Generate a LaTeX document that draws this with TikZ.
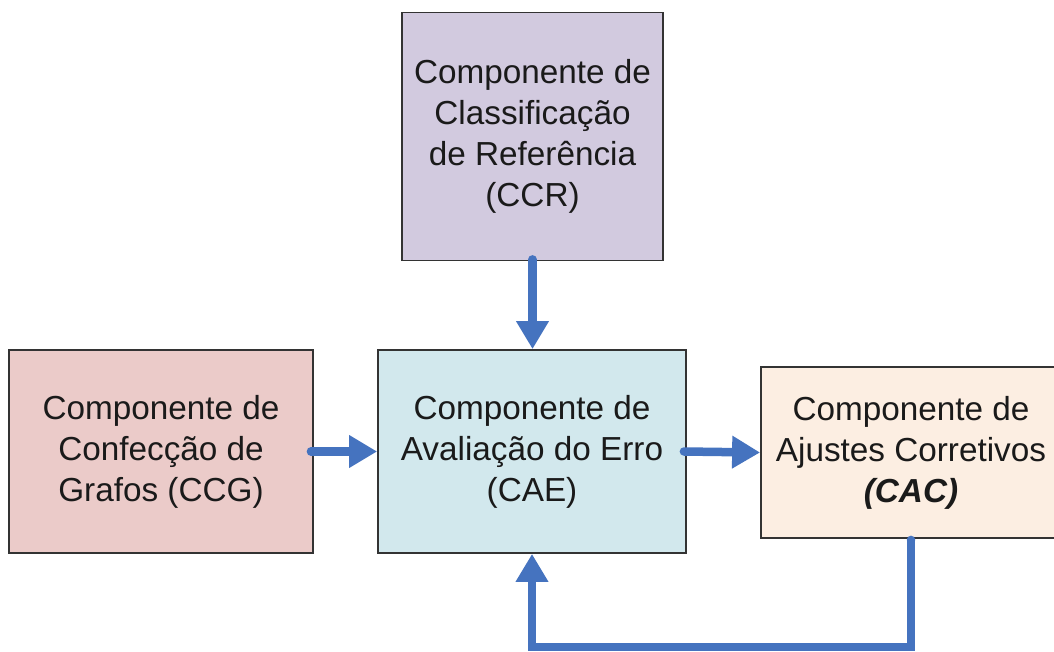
\documentclass[tikz,border=0pt]{standalone}
\usepackage{fontspec}
\setmainfont{Liberation Sans}
\usetikzlibrary{arrows.meta}
\definecolor{ccrfill}{HTML}{D2CADF}
\definecolor{ccgfill}{HTML}{EBCBC9}
\definecolor{caefill}{HTML}{D2E8ED}
\definecolor{cacfill}{HTML}{FCEEE2}
\definecolor{arrowblue}{HTML}{4573BF}
\definecolor{boxline}{HTML}{333333}
\definecolor{txt}{HTML}{1A1A1A}
\tikzset{
  compbox/.style={draw=boxline, line width=1.8pt, align=center, inner sep=0pt,
    text=txt, font=\fontsize{33.3}{41}\selectfont},
  flow/.style={draw=arrowblue, line width=8.5pt, line cap=round,
    -{Triangle[width=31pt,length=28pt]}},
}
\begin{document}
\begin{tikzpicture}[x=1pt,y=-1pt]
\useasboundingbox (0,0) rectangle (1054,652);
\clip (0,0) rectangle (1054,652);
\node[compbox, fill=ccrfill, minimum width=261pt, minimum height=248pt] (ccr) at (532.5,136.5)
  {Componente de\\Classificação\\de Referência\\(CCR)};
\node[compbox, fill=ccgfill, minimum width=304pt, minimum height=203pt] (ccg) at (161,451.5)
  {Componente de\\Confecção de\\Grafos (CCG)};
\node[compbox, fill=caefill, minimum width=308pt, minimum height=203pt] (cae) at (532,451.5)
  {Componente de\\Avaliação do Erro\\(CAE)};
\node[compbox, fill=cacfill, minimum width=300pt, minimum height=171pt] (cac) at (911,452.5)
  {Componente de\\Ajustes Corretivos\\\textbf{\textit{(CAC)}}};
\coordinate (loop) at (0,647);
\draw[flow] ([yshift=2pt]ccr.south) -- (ccr.south |- cae.north);
\draw[flow] ([xshift=-3pt]ccg.east) -- (cae.west);
\draw[flow] ([xshift=-3pt]cae.east) -- (cac.west);
\draw[flow, line cap=butt, line join=miter] ([yshift=-1pt]cac.south) -- (cac.south |- loop) -- (cae.south |- loop) -- (cae.south);
\fill[arrowblue] ([yshift=-1pt]cac.south) circle (4.25pt);
\end{tikzpicture}
\end{document}
